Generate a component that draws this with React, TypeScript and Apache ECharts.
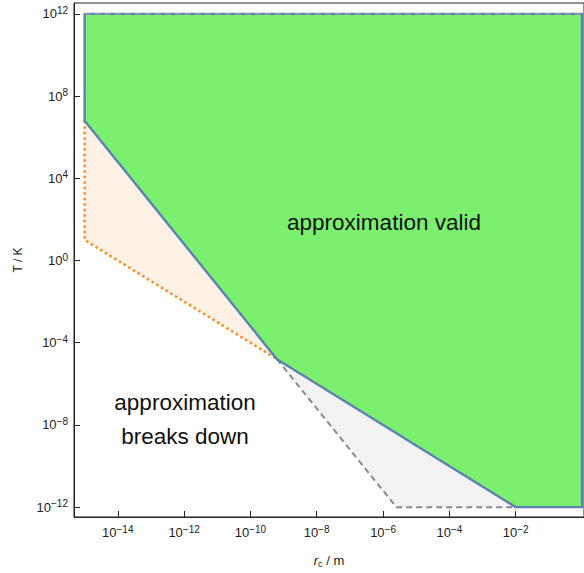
import React, { useEffect, useRef } from "react";
import * as echarts from "echarts";

// All coordinates are log10 values of r_c (m) and T (K)
const xTicks = [-14, -12, -10, -8, -6, -4, -2];
const yTicks = [-12, -8, -4, 0, 4, 8, 12];

const greenRegion = [
  [-15, 12],
  [0, 12],
  [0, -12],
  [-2, -12],
  [-9.2, -4.8],
  [-15, 6.8],
];
const orangeRegion = [
  [-15, 6.8],
  [-9.2, -4.8],
  [-15, 1],
];
const orangeBorder = [
  [-15, 6.8],
  [-15, 1],
  [-9.2, -4.8],
];
const grayRegion = [
  [-9.2, -4.8],
  [-2, -12],
  [-5.6, -12],
];
const grayBorder = [
  [-9.2, -4.8],
  [-5.6, -12],
  [-2, -12],
];
const topBorder = [
  [-15, 12],
  [0, 12],
];

const FONT = "Liberation Sans, Arial, sans-serif";

const supLabel = (v: number) => {
  const e = Math.round(v);
  const s = e < 0 ? "\u2212" + Math.abs(e) : String(e);
  return "10{sup|" + s + "}";
};

function polySeries(
  pts: number[][],
  fill: string | null,
  stroke: string | null,
  lineDash: number[] | null,
  lineWidth: number,
  closed: boolean,
  z: number
) {
  return {
    type: "custom",
    coordinateSystem: "cartesian2d",
    data: [[0]],
    z,
    silent: true,
    renderItem: (_params: any, api: any) => {
      const points = pts.map((p) => api.coord(p));
      const style: any = {
        fill: fill || "none",
        stroke: stroke || "none",
        lineWidth,
        lineJoin: "round",
      };
      if (lineDash) style.lineDash = lineDash;
      if (closed) {
        return { type: "polygon", shape: { points }, style };
      }
      return { type: "polyline", shape: { points }, style: { ...style, fill: "none" } };
    },
  };
}

export default function App() {
  const ref = useRef<HTMLDivElement>(null);
  useEffect(() => {
    if (!ref.current) return;
    const chart = echarts.init(ref.current, null, { renderer: "svg" });
    const labelRich = {
      sup: { fontSize: 10, verticalAlign: "top", padding: [0, 0, 7, 0], color: "#222", fontFamily: FONT },
    };
    const annot = (text: string, x: number, y: number) => ({
      type: "text",
      x,
      y,
      z: 10,
      style: {
        text,
        fontSize: 22.5,
        fill: "#111",
        fontFamily: FONT,
        align: "center",
        verticalAlign: "middle",
      },
    });
    chart.setOption({
      animation: false,
      grid: {
        left: 74,
        right: -2,
        top: 3,
        bottom: 51,
        show: true,
        borderColor: "#222",
        borderWidth: 1,
        backgroundColor: "transparent",
      },
      xAxis: {
        type: "value",
        min: -15.32,
        max: 0.06,
        splitLine: { show: false },
        axisLine: { show: true, onZero: false, lineStyle: { color: "#222", width: 1 } },
        axisTick: { show: true, inside: true, length: 6, customValues: xTicks, lineStyle: { color: "#222" } },
        axisLabel: {
          customValues: xTicks,
          formatter: supLabel,
          fontSize: 13,
          color: "#222",
          margin: 7,
          fontFamily: FONT,
          rich: labelRich,
        },
        name: "{i|r}{sub|c}{n| / m}",
        nameLocation: "middle",
        nameGap: 36,
        nameTextStyle: {
          rich: {
            i: { fontStyle: "italic", fontSize: 13, color: "#222", fontFamily: FONT },
            sub: { fontSize: 9, color: "#222", verticalAlign: "bottom", padding: [6, 0, 0, 0], fontFamily: FONT },
            n: { fontSize: 13, color: "#222", fontFamily: FONT },
          },
        },
      },
      yAxis: {
        type: "value",
        min: -12.48,
        max: 12.53,
        splitLine: { show: false },
        axisLine: { show: true, onZero: false, lineStyle: { color: "#222", width: 1 } },
        axisTick: { show: true, inside: true, length: 6, customValues: yTicks, lineStyle: { color: "#222" } },
        axisLabel: {
          customValues: yTicks,
          formatter: supLabel,
          fontSize: 13,
          color: "#222",
          margin: 6,
          fontFamily: FONT,
          rich: labelRich,
        },
        name: "T / K",
        nameLocation: "middle",
        nameGap: 50,
        nameTextStyle: { fontSize: 12, color: "#222", fontFamily: FONT },
      },
      series: [
        polySeries(grayRegion, "#f2f2f2", null, null, 0, true, 1),
        polySeries(orangeRegion, "#fdf0e5", null, null, 0, true, 1),
        polySeries(grayBorder, null, "#8a8a8a", [6, 4], 2, false, 2),
        polySeries(orangeBorder, null, "#ff8c1a", [2.5, 3], 2.5, false, 2),
        polySeries(greenRegion, "#7af06e", "#5e81b5", null, 2.4, true, 3),
        polySeries(topBorder, null, "#b0a8a0", [6, 4], 1, false, 4),
      ],
      graphic: [
        annot("approximation valid", 384, 222),
        annot("approximation", 185, 402),
        annot("breaks down", 185, 436),
      ],
    });
    return () => chart.dispose();
  }, []);
  return <div ref={ref} style={{ width: 584, height: 573, position: "absolute", left: 0, top: 0 }} />;
}
